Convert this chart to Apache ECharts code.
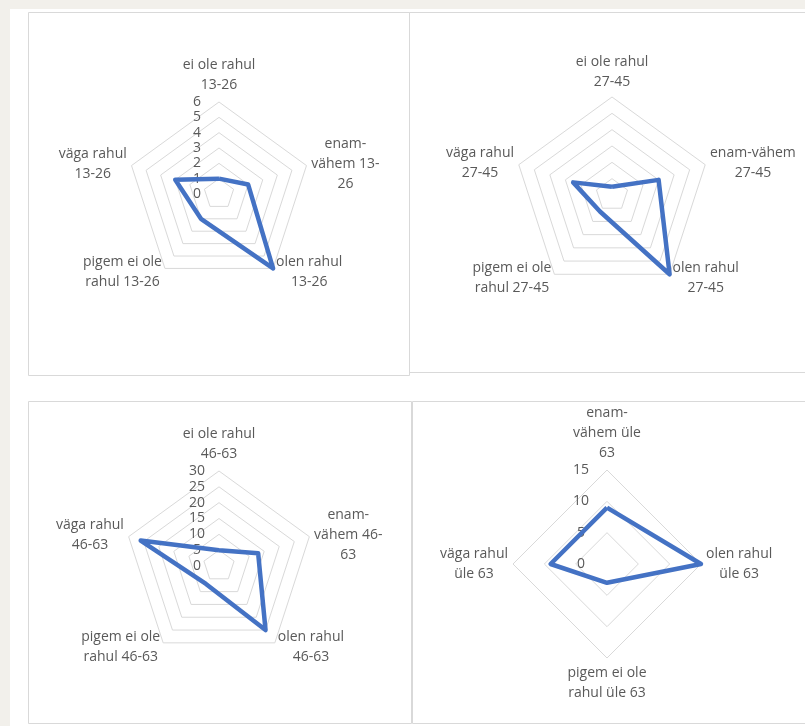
<!DOCTYPE html>
<html><head><meta charset="utf-8">
<script src="https://cdn.jsdelivr.net/npm/echarts@6/dist/echarts.min.js"></script>
<style>html,body{margin:0;padding:0;background:#fff}#c{width:805px;height:726px}</style>
</head><body><div id="c"></div>
<script>
// Chart 1: 13-26
const cats1 = ['ei ole rahul\n13-26', 'enam-\nvähem 13-\n26', 'olen rahul\n13-26', 'pigem ei ole\nrahul 13-26', 'väga rahul\n13-26'];
const vals1 = [1, 2, 6, 2, 3];
const max1 = 6, split1 = 6;
// Chart 2: 27-45
const cats2 = ['ei ole rahul\n27-45', 'enam-vähem\n27-45', 'olen rahul\n27-45', 'pigem ei ole\nrahul 27-45', 'väga rahul\n27-45'];
const vals2 = [2, 12, 24, 5, 10];
const max2 = 24, split2 = 6;
// Chart 3: 46-63
const cats3 = ['ei ole rahul\n46-63', 'enam-\nvähem 46-\n63', 'olen rahul\n46-63', 'pigem ei ole\nrahul 46-63', 'väga rahul\n46-63'];
const vals3 = [5, 13, 25, 7, 26];
const max3 = 30, split3 = 6;
// Chart 4: üle 63
const cats4 = ['enam-\nvähem üle\n63', 'olen rahul\nüle 63', 'pigem ei ole\nrahul üle 63', 'väga rahul\nüle 63'];
const vals4 = [9, 15, 3, 9];
const max4 = 15, split4 = 3;

const FONT = 'Open Sans';
const TXT = '#595959';
const GRID = '#d9d9d9';
const LINE = '#4472C4';

// Excel draws clockwise, ECharts counter-clockwise: reorder indices
function order(n) { const o = [0]; for (let i = n - 1; i >= 1; i--) o.push(i); return o; }

function makeRadar(cats, max, split, center, radius, showLabels, margin) {
  const o = order(cats.length);
  return {
    center: center, radius: radius, startAngle: 90, splitNumber: split, shape: 'polygon',
    indicator: o.map((i, k) => {
      const ind = { name: cats[i], min: 0, max: max };
      if (k === 0 && showLabels) ind.axisLabel = { show: true };
      return ind;
    }),
    nameGap: 5,
    axisName: {
      color: TXT, fontFamily: FONT, fontSize: 14, lineHeight: 20,
      formatter: function (name) { return name.split('\n').map(s => '{c|' + s + '}').join('\n'); },
      rich: { c: { align: 'center', color: TXT, fontFamily: FONT, fontSize: 14, lineHeight: 20 } }
    },
    splitLine: { lineStyle: { color: GRID, width: 1 } },
    splitArea: { show: false },
    axisLine: { show: false },
    axisTick: { show: false },
    axisLabel: {
      show: false, margin: margin, color: TXT, fontFamily: FONT, fontSize: 14,
      formatter: '{a|{value}}',
      rich: { a: { width: 20, align: 'center', color: TXT, fontFamily: FONT, fontSize: 14 } }
    }
  };
}

function makeSeries(vals, idx) {
  const o = order(vals.length);
  return {
    type: 'radar', radarIndex: idx, symbol: 'none', silent: true,
    lineStyle: { color: LINE, width: 4.5, join: 'round' },
    data: [{ value: o.map(i => vals[i]) }]
  };
}

const panel = (x1, y1, x2, y2) => ({
  type: 'rect', z: -5, shape: { x: x1, y: y1, width: x2 - x1, height: y2 - y1 },
  style: { fill: null, stroke: GRID, lineWidth: 1 }
});

const chart = echarts.init(document.getElementById('c'), null, { renderer: 'canvas' });
chart.setOption({
  backgroundColor: '#f2f0eb',
  animation: false,
  graphic: [
    { type: 'rect', z: -10, shape: { x: 10, y: 9, width: 800, height: 720 }, style: { fill: '#ffffff' } },
    panel(28.5, 12.5, 409.5, 375.5),
    panel(409.5, 12.5, 812, 372.5),
    panel(28.5, 401.5, 411.5, 723.5),
    panel(412.5, 401.5, 812, 723.5)
  ],
  radar: [
    makeRadar(cats1, max1, split1, [219, 194], 92, true, 12),
    makeRadar(cats2, max2, split2, [612, 195], 98, false, 12),
    makeRadar(cats3, max3, split3, [219, 566], 95, true, 12),
    makeRadar(cats4, max4, split4, [607, 564], 94, true, 16)
  ],
  series: [makeSeries(vals1, 0), makeSeries(vals2, 1), makeSeries(vals3, 2), makeSeries(vals4, 3)]
});
</script></body></html>
